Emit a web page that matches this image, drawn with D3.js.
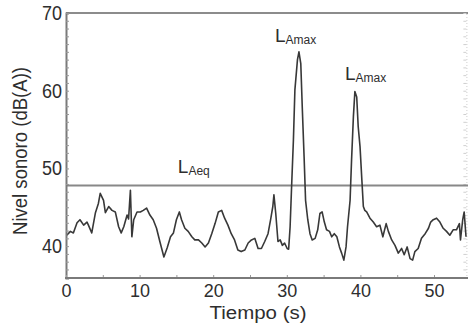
<!DOCTYPE html>
<html>
<head>
<meta charset="utf-8">
<script src="https://cdn.jsdelivr.net/npm/d3@7"></script>
<style>
  body { margin: 0; background: #fff; }
  svg { display: block; }
  .lbl { font-family: "Liberation Sans Narrow", "Arial Narrow", "Liberation Sans", Arial, sans-serif; fill: #2e2e2e; }
</style>
</head>
<body>
<div id="cht"></div>
<script>
// sound level trace
const tiempo = [
  0.1, 0.6, 1.0, 1.5, 1.9, 2.4, 2.85, 3.0, 3.5, 4.0, 4.4, 4.65, 5.1, 5.35, 5.8, 6.25, 6.7, 7.15, 7.5, 7.85,
  8.3, 8.5, 8.75, 8.95, 9.2, 9.65, 10.1, 10.5, 10.95, 11.4, 11.85, 12.3, 12.75, 13.3, 13.75, 14.2, 14.6, 15.0, 15.4, 15.7,
  16.15, 16.6, 17.1, 17.5, 18.0, 18.45, 18.9, 19.35, 19.8, 20.25, 20.7, 21.15, 21.55, 22.0, 22.45, 22.9, 23.35, 23.8, 24.3, 24.75,
  25.2, 25.65, 26.1, 26.55, 27.0, 27.45, 27.8, 28.1, 28.25, 28.5, 28.8, 29.1, 29.4, 29.7, 30.05, 30.25, 30.45, 30.65, 30.9, 31.1,
  31.45, 31.65, 31.9, 32.1, 32.35, 32.55, 32.85, 33.15, 33.45, 33.85, 34.2, 34.5, 34.8, 35.1, 35.4, 35.8, 36.1, 36.45, 36.8, 37.15,
  37.45, 37.75, 38.05, 38.25, 38.6, 38.8, 39.05, 39.25, 39.5, 39.7, 39.95, 40.2, 40.4, 40.6, 40.85, 41.3, 41.75, 42.2, 42.65, 43.05,
  43.5, 43.8, 44.25, 44.7, 45.15, 45.6, 45.95, 46.35, 46.75, 47.1, 47.4, 47.85, 48.3, 48.8, 49.25, 49.55, 49.9, 50.35, 50.8, 51.25,
  51.7, 52.15, 52.6, 53.05, 53.45, 53.6, 53.9, 54.1, 54.35
];
const nivel = [
  41.4, 41.9, 41.7, 43.0, 43.4, 42.7, 43.1, 42.8, 41.7, 44.3, 45.5, 46.8, 45.9, 44.3, 45.1, 44.6, 44.4, 42.5, 41.7, 42.5,
  44.0, 43.5, 47.2, 41.2, 43.4, 44.4, 44.4, 44.6, 44.9, 44.0, 43.4, 42.3, 40.6, 38.6, 39.8, 41.2, 41.7, 43.4, 44.4, 43.4,
  42.3, 41.9, 41.2, 40.8, 40.8, 40.4, 39.9, 40.4, 41.6, 42.9, 44.4, 44.6, 43.6, 42.7, 41.6, 40.8, 39.5, 39.3, 39.5, 40.4,
  40.8, 41.0, 39.7, 39.7, 40.6, 41.6, 43.4, 45.1, 46.6, 44.2, 40.6, 40.8, 40.1, 40.4, 39.7, 39.6, 42.5, 47.6, 53.7, 60.1,
  64.0, 65.0, 63.5, 57.9, 51.5, 45.9, 43.4, 41.6, 40.8, 41.0, 42.1, 44.2, 44.4, 43.1, 42.1, 41.9, 41.2, 41.6, 41.2, 39.9,
  39.1, 38.2, 39.9, 42.5, 45.9, 51.1, 56.7, 59.9, 59.2, 55.4, 52.8, 48.5, 45.1, 44.6, 44.4, 43.6, 43.1, 42.5, 42.7, 41.2,
  42.9, 41.9, 40.8, 40.1, 39.1, 39.7, 38.9, 39.9, 38.4, 38.2, 39.3, 39.7, 41.0, 41.6, 42.3, 43.1, 43.4, 43.6, 43.1, 42.3,
  41.9, 41.4, 42.1, 42.1, 42.9, 40.8, 43.4, 44.4, 41.2
];
const lAeq = 47.8;

const yTicks = [40, 50, 60, 70];
const xTicks = [0, 10, 20, 30, 40, 50];

// annotations: main letter, subscript, position (s, dB)
const notes = [
  { main: "L", sub: "Aeq", t: 15.2, v: 49.4 },
  { main: "L", sub: "Amax", t: 28.4, v: 66.3 },
  { main: "L", sub: "Amax", t: 37.9, v: 61.4 }
];

const width = 468, height = 331;

const svg = d3.select("#cht")
  .append("svg")
  .attr("width", width)
  .attr("height", height);

const x = d3.scaleLinear().domain([0, 50]).range([66, 434]);
const y = d3.scaleLinear().domain([35.9, 70]).range([278, 13]);
const xEnd = 54.4;

const axisColor = "#7a7a7a";

// top frame line
svg.append("line")
  .attr("x1", x(0)).attr("x2", width)
  .attr("y1", y(70)).attr("y2", y(70))
  .attr("stroke", "#8c8c8c").attr("stroke-width", 2);

// faint right edge with ticks
const gRight = svg.append("g")
  .attr("transform", "translate(" + x(xEnd) + ",0)")
  .call(d3.axisLeft(y).tickValues(d3.range(36, 71, 1)).tickSize(3).tickFormat(""));
gRight.select(".domain").attr("stroke", "#cfcfcf").attr("stroke-dasharray", "1,2");
gRight.selectAll(".tick line").attr("stroke", "#cfcfcf");

// LAeq level
svg.append("line")
  .attr("x1", x(0)).attr("x2", width)
  .attr("y1", y(lAeq)).attr("y2", y(lAeq))
  .attr("stroke", "#888").attr("stroke-width", 2);

// trace
const pts = tiempo.map((t, i) => [t, nivel[i]]);
svg.append("path")
  .datum(pts)
  .attr("fill", "none")
  .attr("stroke", "#383838")
  .attr("stroke-width", 1.6)
  .attr("stroke-linejoin", "round")
  .attr("d", d3.line()
    .x(function(d) { return x(d[0]); })
    .y(function(d) { return y(d[1]); }));

// left axis: minor ticks inward
const gLeftMinor = svg.append("g")
  .attr("transform", "translate(" + x(0) + ",0)")
  .call(d3.axisRight(y).tickValues(d3.range(36, 71, 1)).tickSize(3).tickFormat(""));
gLeftMinor.select(".domain").attr("stroke", axisColor).attr("stroke-width", 2);
gLeftMinor.selectAll(".tick line").attr("stroke", "#999");

const gLeft = svg.append("g")
  .attr("transform", "translate(" + x(0) + ",0)")
  .call(d3.axisLeft(y).tickValues(yTicks).tickSize(0).tickPadding(4));
gLeft.select(".domain").remove();
gLeft.selectAll("text")
  .attr("class", "lbl")
  .style("font-size", "20px")
  .attr("textLength", 20)
  .attr("lengthAdjust", "spacingAndGlyphs");

// bottom axis
const gBotMinor = svg.append("g")
  .attr("transform", "translate(0," + y(35.9) + ")")
  .call(d3.axisTop(x).tickValues(d3.range(0, 55, 5)).tickSize(3).tickFormat(""));
gBotMinor.select(".domain").remove();
gBotMinor.selectAll(".tick line").attr("stroke", "#999");

svg.append("line")
  .attr("x1", x(0) - 1).attr("x2", width)
  .attr("y1", y(35.9)).attr("y2", y(35.9))
  .attr("stroke", axisColor).attr("stroke-width", 2);

const gBot = svg.append("g")
  .attr("transform", "translate(0," + y(35.9) + ")")
  .call(d3.axisBottom(x).tickValues(xTicks).tickSize(0).tickPadding(6));
gBot.select(".domain").remove();
gBot.selectAll("text")
  .attr("class", "lbl")
  .style("font-size", "19px")
  .attr("dy", "0.71em")
  .each(function(d) {
    d3.select(this)
      .attr("textLength", String(d).length * 10)
      .attr("lengthAdjust", "spacingAndGlyphs");
  });

// axis titles
svg.append("text")
  .attr("class", "lbl")
  .attr("transform", "translate(27," + 151 + ") rotate(-90)")
  .attr("text-anchor", "middle")
  .style("font-size", "20px")
  .attr("textLength", 168)
  .attr("lengthAdjust", "spacingAndGlyphs")
  .text("Nivel sonoro (dB(A))");

svg.append("text")
  .attr("class", "lbl")
  .attr("x", 258)
  .attr("y", 319)
  .attr("text-anchor", "middle")
  .style("font-size", "18px")
  .attr("textLength", 97)
  .attr("lengthAdjust", "spacingAndGlyphs")
  .text("Tiempo (s)");

// L annotations
const gNotes = svg.append("g");
notes.forEach(function(n) {
  const txt = gNotes.append("text")
    .attr("class", "lbl")
    .attr("x", x(n.t))
    .attr("y", y(n.v))
    .style("font-size", "19px");
  txt.append("tspan").text(n.main);
  txt.append("tspan")
    .attr("dy", 2)
    .style("font-size", "12px")
    .text(n.sub);
});
</script>
</body>
</html>
